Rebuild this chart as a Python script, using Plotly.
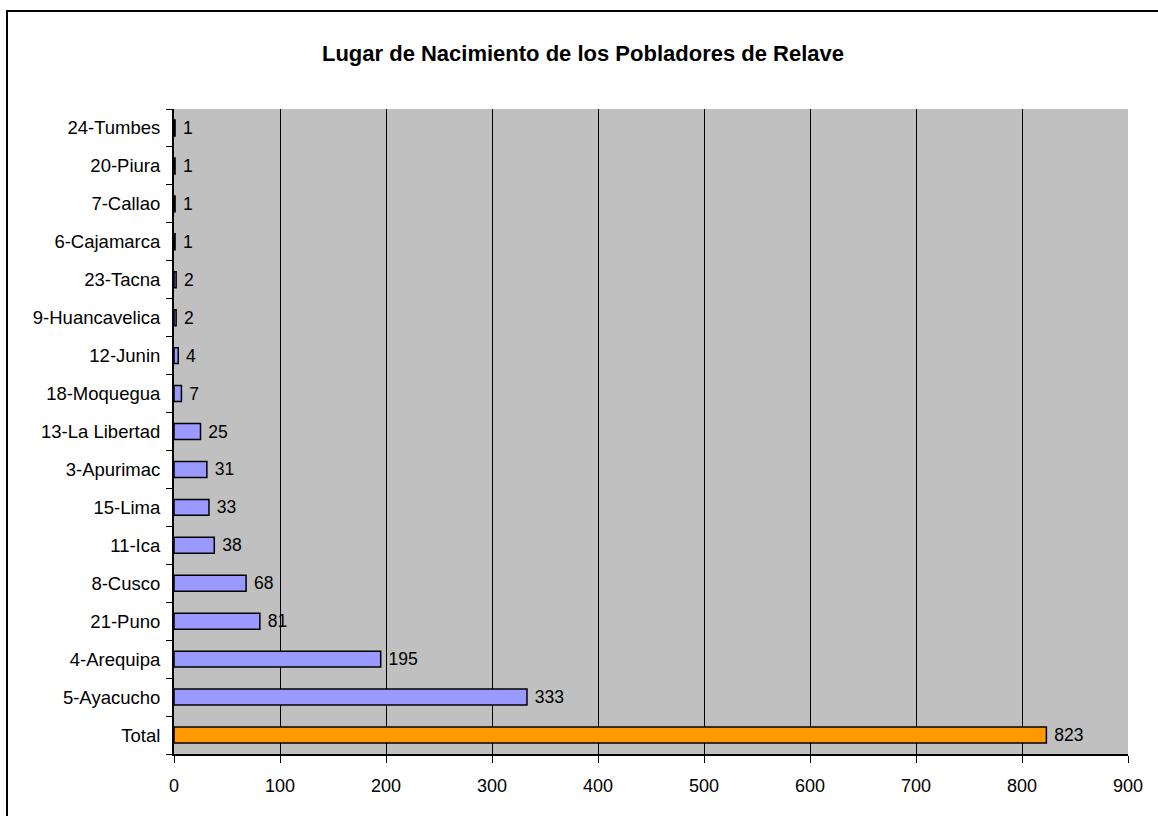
import plotly.graph_objects as go

categories = ["Total", "5-Ayacucho", "4-Arequipa", "21-Puno", "8-Cusco", "11-Ica", "15-Lima",
              "3-Apurimac", "13-La Libertad", "18-Moquegua", "12-Junin", "9-Huancavelica",
              "23-Tacna", "6-Cajamarca", "7-Callao", "20-Piura", "24-Tumbes"]
values = [823, 333, 195, 81, 68, 38, 33, 31, 25, 7, 4, 2, 2, 1, 1, 1, 1]
colors = ["#FF9900"] + ["#9999FF"] * (len(values) - 1)
x_ticks = [0, 100, 200, 300, 400, 500, 600, 700, 800, 900]

W, H = 1158, 816
L, R, T, B = 174, 30, 109, 62
pw, ph = W - L - R, H - T - B
FONT = "Arial, Liberation Sans, sans-serif"

fig = go.Figure(go.Bar(
    y=categories, x=values, orientation="h",
    marker=dict(color=colors, line=dict(color="black", width=1.5)),
    width=0.42,
    text=[" " + str(v) for v in values], textposition="outside", cliponaxis=False,
    constraintext="none",
    textfont=dict(family=FONT, size=17.5, color="black"),
))

fig.update_layout(
    width=W, height=H,
    margin=dict(l=L, r=R, t=T, b=B),
    paper_bgcolor="white", plot_bgcolor="#C0C0C0",
    showlegend=False,
    uniformtext=dict(minsize=17, mode="show"),
    title=dict(text="<b>Lugar de Nacimiento de los Pobladores de Relave</b>",
               x=583 / W, xanchor="center", y=1 - 53 / H, yanchor="middle",
               font=dict(family=FONT, size=22, color="black")),
    font=dict(family=FONT, size=18, color="black"),
)
fig.update_xaxes(range=[0, 900], tickvals=x_ticks, showgrid=True, gridcolor="black", gridwidth=1,
                 showline=True, linecolor="black", linewidth=1.5, ticks="outside", ticklen=7,
                 tickcolor="black", tickfont=dict(size=18), zeroline=False, ticklabelstandoff=8)
fig.update_yaxes(categoryorder="array", categoryarray=categories, showgrid=False,
                 showline=True, linecolor="black", linewidth=2, ticks="outside", ticklen=6,
                 tickson="boundaries", tickcolor="black", tickfont=dict(size=18.5),
                 ticklabelstandoff=8,
                 range=[-0.5, len(categories) - 0.5])

# outer chart frame
fig.add_shape(type="rect", xref="paper", yref="paper",
              x0=(7 - L) / pw, x1=(W + 10 - L) / pw,
              y0=-(B + 10) / ph, y1=(ph + T - 11) / ph,
              line=dict(color="black", width=2), fillcolor="rgba(0,0,0,0)", layer="below")

fig.write_html("out.html", config={"displayModeBar": False},
               post_script="document.body.style.margin='0';")
